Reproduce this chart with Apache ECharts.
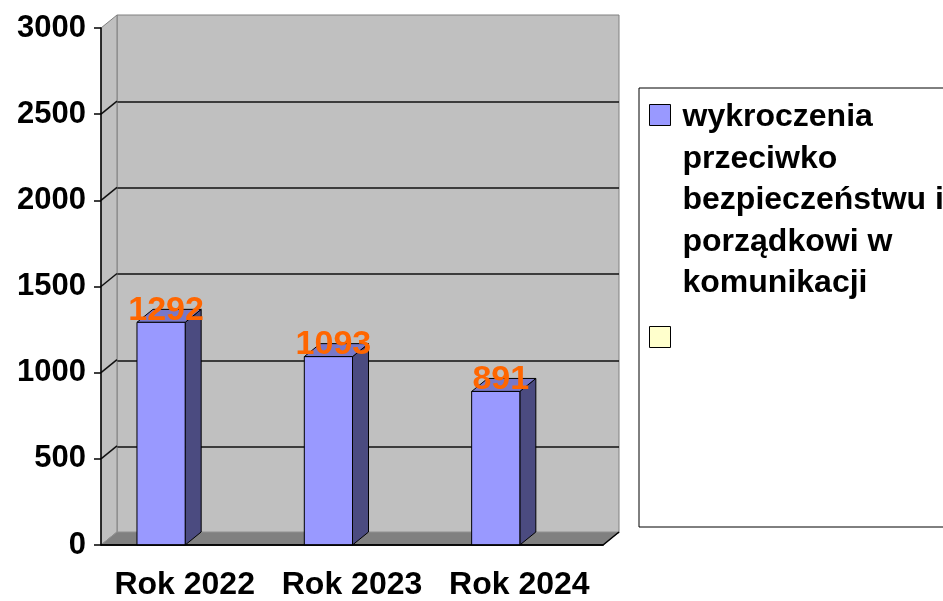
<!DOCTYPE html>
<html>
<head>
<meta charset="utf-8">
<script src="https://cdn.jsdelivr.net/npm/echarts@6/dist/echarts.min.js"></script>
<style>
  html, body { margin: 0; padding: 0; background: #fff; }
  #chart { width: 943px; height: 601px; }
</style>
</head>
<body>
<div id="chart"></div>
<script>
// dane wykresu
const categories = ['Rok 2022', 'Rok 2023', 'Rok 2024']
const values = [1292, 1093, 891]
const seriesName = 'wykroczenia\nprzeciwko\nbezpieczeństwu i\nporządkowi w\nkomunikacji'
const emptySeriesName = '\u00a0'
const yTicks = [0, 500, 1000, 1500, 2000, 2500, 3000]

const FONT = '"Liberation Sans", Arial, sans-serif'
// przesunięcie "głębi" 3D
const DX = 16
const DY = 13

const chart = echarts.init(document.getElementById('chart'))

// ściana boczna i podłoga
function renderFrame (params, api) {
  const band = api.size([1, 0])[0]
  const x0 = api.coord([0, 0])[0] - band / 2
  const x1 = api.coord([categories.length - 1, 0])[0] + band / 2
  const yBase = api.coord([0, yTicks[0]])[1]
  const yTop = api.coord([0, yTicks[yTicks.length - 1]])[1]
  const children = [{
    type: 'polygon',
    shape: { points: [[x0, yTop], [x0 + DX, yTop - DY], [x0 + DX, yBase - DY], [x0, yBase]] },
    style: { fill: '#C0C0C0', stroke: '#808080', lineWidth: 1 }
  }]
  yTicks.slice(1, -1).forEach(function (t) {
    const y = api.coord([0, t])[1]
    children.push({
      type: 'line',
      shape: { x1: x0, y1: y, x2: x0 + DX, y2: y - DY },
      style: { stroke: '#111', lineWidth: 1.5 }
    })
  })
  children.push({
    type: 'polygon',
    shape: { points: [[x0, yBase], [x0 + DX, yBase - DY], [x1 + DX, yBase - DY], [x1, yBase]] },
    style: { fill: '#808080', stroke: '#909090', lineWidth: 1 }
  })
  children.push({
    type: 'polyline',
    shape: { points: [[x0, yBase], [x1, yBase], [x1 + DX, yBase - DY]] },
    style: { stroke: '#000', lineWidth: 1.5, fill: null }
  })
  return { type: 'group', children: children }
}

// słupki 3D z etykietą
function renderBar (params, api) {
  const idx = api.value(0)
  const val = api.value(1)
  const top = api.coord([idx, val])
  const base = api.coord([idx, 0])
  const band = api.size([1, 0])[0]
  const left = top[0] - band * 0.285
  const w = band * 0.288
  const yt = top[1]
  const yb = base[1]
  return {
    type: 'group',
    children: [
      {
        type: 'polygon',
        shape: { points: [[left + w, yt], [left + w + DX, yt - DY], [left + w + DX, yb - DY], [left + w, yb]] },
        style: { fill: '#4B4B80', stroke: '#000', lineWidth: 1 }
      },
      {
        type: 'polygon',
        shape: { points: [[left, yt], [left + w, yt], [left + w + DX, yt - DY], [left + DX, yt - DY]] },
        style: { fill: '#7878C8', stroke: '#000', lineWidth: 1 }
      },
      {
        type: 'rect',
        shape: { x: left, y: yt, width: w, height: yb - yt },
        style: { fill: '#9999FF', stroke: '#000', lineWidth: 1 }
      },
      {
        type: 'text',
        x: left + w / 2 + 5,
        y: yt - DY + 1,
        style: {
          text: String(val),
          fill: '#FF6600',
          font: 'bold 34px ' + FONT,
          align: 'center',
          verticalAlign: 'middle'
        }
      }
    ]
  }
}

chart.setOption({
  animation: false,
  backgroundColor: '#fff',
  legend: {
    orient: 'vertical',
    left: 639,
    top: 88,
    padding: [8, 60, 0, 10],
    itemWidth: 21,
    itemHeight: 208,
    itemGap: 13,
    borderColor: '#000',
    borderWidth: 1,
    icon: 'path://M0,0M21,208M0,8h21v21h-21z',
    itemStyle: { borderColor: '#000', borderWidth: 1 },
    textStyle: {
      color: '#000',
      fontFamily: FONT,
      fontWeight: 'bold',
      fontSize: 32,
      lineHeight: 41.5,
      padding: [0, 0, 0, 7]
    },
    data: [seriesName, emptySeriesName]
  },
  grid: [
    // przód – osie
    { left: 101, right: 340, top: 28, bottom: 55 },
    // tylna ściana
    {
      left: 101 + DX,
      right: 340 - DX,
      top: 28 - DY,
      bottom: 55 + DY,
      show: true,
      backgroundColor: '#C0C0C0',
      borderColor: '#808080',
      borderWidth: 1
    }
  ],
  xAxis: [
    {
      gridIndex: 0,
      type: 'category',
      data: categories,
      z: 10,
      axisLine: { lineStyle: { color: '#000', width: 1.5 } },
      axisTick: { length: 7, lineStyle: { color: '#000', width: 1.5 } },
      axisLabel: {
        interval: 0,
        color: '#000',
        fontFamily: FONT,
        fontWeight: 'bold',
        fontSize: 32,
        margin: 24
      }
    },
    {
      gridIndex: 1,
      type: 'category',
      data: categories,
      show: false
    }
  ],
  yAxis: [
    {
      gridIndex: 0,
      type: 'value',
      min: 0,
      max: 3000,
      interval: 500,
      z: 10,
      axisLine: { show: true, lineStyle: { color: '#000', width: 1.5 } },
      axisTick: { show: true, length: 7, lineStyle: { color: '#000', width: 1.5 } },
      splitLine: { show: false },
      axisLabel: {
        color: '#000',
        fontFamily: FONT,
        fontWeight: 'bold',
        fontSize: 31,
        margin: 15,
        formatter: function (v) { return String(v) }
      }
    },
    {
      gridIndex: 1,
      type: 'value',
      min: 0,
      max: 3000,
      interval: 500,
      axisLine: { show: false },
      axisTick: { show: false },
      axisLabel: { show: false },
      splitLine: {
        show: true,
        showMinLine: false,
        showMaxLine: false,
        lineStyle: { color: '#111', width: 1.5 }
      }
    }
  ],
  series: [
    {
      name: 'frame',
      type: 'custom',
      xAxisIndex: 0,
      yAxisIndex: 0,
      silent: true,
      z: 1,
      renderItem: renderFrame,
      encode: { x: 0, y: 1 },
      data: [[0, 0]]
    },
    {
      name: seriesName,
      type: 'custom',
      xAxisIndex: 0,
      yAxisIndex: 0,
      z: 3,
      itemStyle: { color: '#9999FF' },
      renderItem: renderBar,
      encode: { x: 0, y: 1 },
      data: values.map(function (v, i) { return [i, v] })
    },
    {
      name: emptySeriesName,
      type: 'custom',
      xAxisIndex: 0,
      yAxisIndex: 0,
      itemStyle: { color: '#FFFFCC' },
      renderItem: function () { return null },
      data: []
    }
  ]
})
</script>
</body>
</html>
